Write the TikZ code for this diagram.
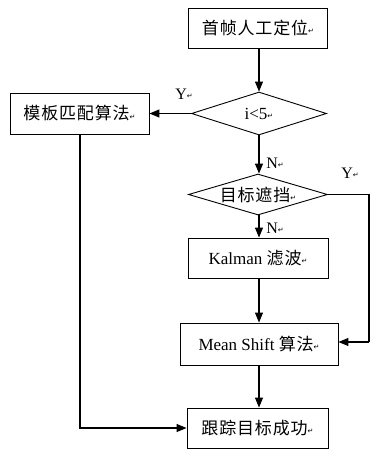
\documentclass[tikz,border=0pt]{standalone}
\usepackage{fontspec}
\setmainfont{Liberation Serif}
\newfontfamily\cjk[LetterSpace=5]{Noto Sans CJK SC}
\newfontfamily\symf{DejaVu Sans}
\usetikzlibrary{shapes.geometric,arrows.meta}
\newcommand{\retm}{{\symf\fontsize{7pt}{7pt}\selectfont\raisebox{0.2ex}{↵}}}
\begin{document}
\begin{tikzpicture}[x=1pt,y=-1pt,
  every node/.style={font=\fontsize{17pt}{19pt}\selectfont},
  box/.style={draw,line width=0.9pt,rectangle,inner sep=0pt,minimum height=40pt},
  dia/.style={draw,line width=0.9pt,diamond,inner sep=0pt,aspect=3.2},
  arr/.style={line width=1.1pt,-{Triangle[length=10pt,width=8pt]}},
  ln/.style={line width=1.1pt},
  lab/.style={inner sep=0pt,font=\fontsize{16pt}{18pt}\selectfont}]
\useasboundingbox (0,0) rectangle (371,450);
\node[box,minimum width=139pt] (b1) at (258,28) {\cjk 首帧人工定位\retm};
\node[dia,minimum width=135pt,minimum height=43pt] (d1) at (259,113.5) {i<5\retm};
\node[box,minimum width=139pt,minimum height=41pt] (b2) at (79.5,113.5) {\cjk 模板匹配算法\retm};
\node[dia,minimum width=139pt,minimum height=41pt] (d2) at (258,194.5) {\cjk 目标遮挡\retm};
\node[box,minimum width=140pt] (b3) at (258,258) {Kalman {\cjk 滤波}\retm};
\node[box,minimum width=158pt,minimum height=42pt] (b4) at (259,344) {Mean Shift {\cjk 算法}\retm};
\node[box,minimum width=141pt] (b5) at (257.5,428) {\cjk 跟踪目标成功\retm};
\coordinate (r1) at (369,194.5);
\coordinate (r2) at (369,342);
\coordinate (l1) at (80,428);
\draw[arr] (b1.south -| d1.north) -- (d1.north);
\draw[arr] (d1.west) -- (b2.east);
\draw[arr] (d1.south) -- (d2.north -| d1.south);
\draw[arr] (d2.south -| d1.south) -- (b3.north -| d1.south);
\draw[arr] (b3.south -| d1.south) -- (b4.north -| d1.south);
\draw[arr] (b4.south -| d1.south) -- (b5.north -| d1.south);
\draw[ln] (d2.east) -- (r1) -- (r2);
\draw[arr] (r2) -- (b4.east |- r2);
\draw[arr] (b2.south -| l1) -- (l1) -- (b5.west);
\node[lab] (y1) at (184,94) {Y\retm};
\node[lab] (n1) at (275,163) {N\retm};
\node[lab] (n2) at (275,228) {N\retm};
\node[lab] (y2) at (350,173) {Y\retm};
\end{tikzpicture}
\end{document}
